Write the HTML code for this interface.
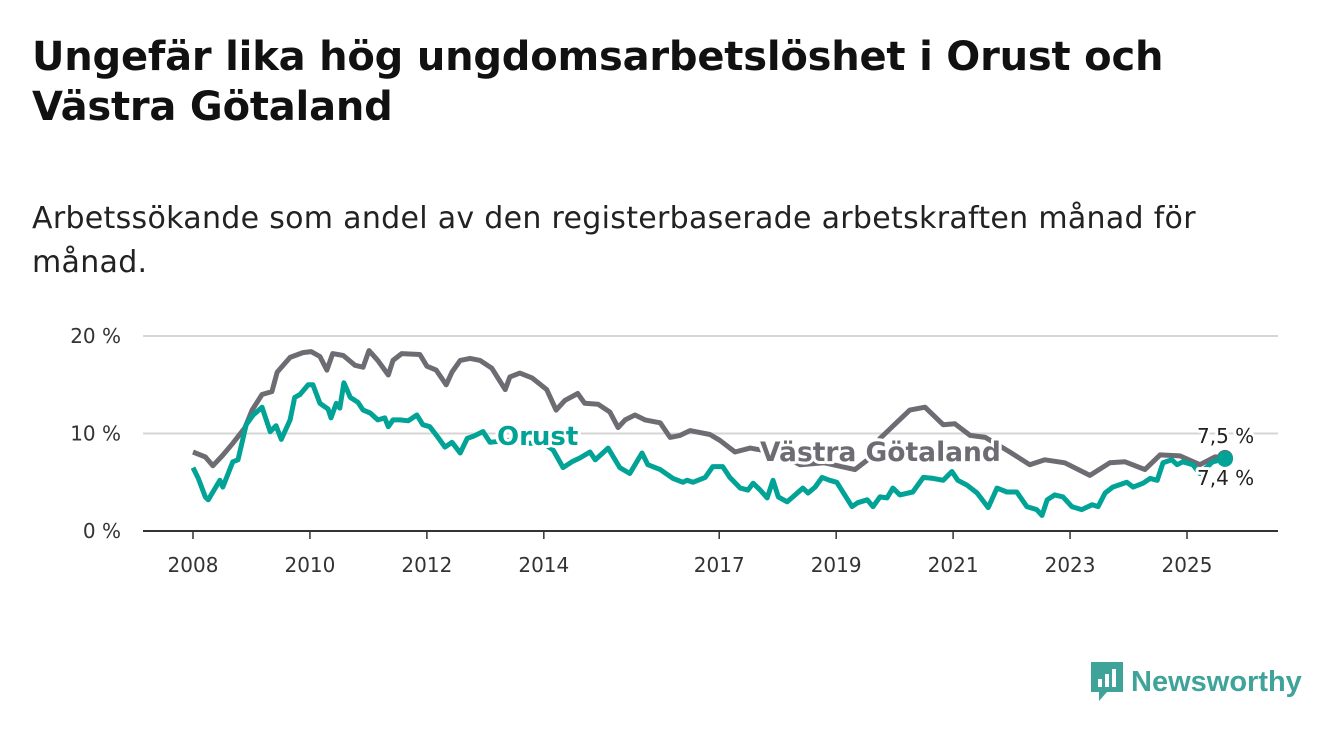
<!DOCTYPE html>
<html><head><meta charset="utf-8"><style>
body{margin:0;width:1340px;height:734px;background:#fff;font-family:"DejaVu Sans","Liberation Sans",sans-serif;overflow:hidden;position:relative}
h1{position:absolute;left:32px;top:32px;margin:0;font-size:40px;line-height:50px;font-weight:bold;color:#111;letter-spacing:-0.2px;white-space:nowrap}
.sub{position:absolute;left:32px;top:197px;margin:0;font-size:30px;line-height:44px;color:#222;width:1230px;letter-spacing:0.3px}
</style></head><body>
<h1>Ungefär lika hög ungdomsarbetslöshet i Orust och<br>Västra Götaland</h1>
<p class="sub">Arbetssökande som andel av den registerbaserade arbetskraften månad för<br>månad.</p>
<svg id="chart" width="1340" height="734" style="position:absolute;left:0;top:0;font-family:'DejaVu Sans',sans-serif"></svg>
<div style="position:absolute;left:1089px;top:660px;display:flex;align-items:center;font-family:'Liberation Sans',sans-serif">
<svg width="36" height="44"><path d="M2 2h32v30H18l-8 9v-9H2z" fill="#3fa39a"/><rect x="9" y="19" width="4" height="8" fill="#fff"/><rect x="16" y="14" width="4" height="13" fill="#fff"/><rect x="23" y="9" width="4" height="18" fill="#fff"/></svg>
<span style="font-size:29px;color:#3fa39a;margin-left:6px;font-weight:bold">Newsworthy</span></div>
<script>
const yTicks=[0,10,20];
const xTicks=[2008,2010,2012,2014,2017,2019,2021,2023,2025];
const vgT=[2008.00,2008.21,2008.34,2008.50,2008.68,2008.89,2009.01,2009.18,2009.35,2009.44,2009.66,2009.88,2010.02,2010.17,2010.29,2010.39,2010.57,2010.77,2010.91,2011.01,2011.16,2011.34,2011.42,2011.57,2011.88,2012.00,2012.16,2012.33,2012.43,2012.57,2012.74,2012.91,2013.11,2013.34,2013.42,2013.59,2013.80,2014.05,2014.21,2014.36,2014.58,2014.70,2014.93,2015.13,2015.27,2015.39,2015.56,2015.73,2015.99,2016.16,2016.33,2016.50,2016.84,2017.01,2017.27,2017.53,2018.0,2018.38,2018.8,2019.32,2019.58,2019.75,2020.26,2020.52,2020.83,2021.03,2021.29,2021.55,2021.97,2022.31,2022.57,2022.91,2023.34,2023.68,2023.94,2024.28,2024.54,2024.88,2025.22,2025.48,2025.65];
const vgV=[8.1,7.6,6.7,7.7,9.0,10.6,12.4,14.0,14.3,16.3,17.8,18.3,18.4,17.9,16.5,18.2,18.0,17.0,16.8,18.5,17.5,16.0,17.5,18.2,18.1,16.9,16.5,15.0,16.3,17.5,17.7,17.5,16.7,14.5,15.8,16.2,15.7,14.5,12.4,13.4,14.1,13.1,13.0,12.2,10.6,11.4,11.9,11.4,11.1,9.6,9.8,10.3,9.9,9.3,8.1,8.5,8.0,6.8,7.0,6.3,7.5,9.5,12.4,12.7,10.9,11.0,9.8,9.6,8.1,6.8,7.3,7.0,5.7,7.0,7.1,6.3,7.8,7.7,6.8,7.6,7.5];
const orT=[2008.00,2008.09,2008.21,2008.26,2008.38,2008.46,2008.51,2008.68,2008.77,2008.91,2009.03,2009.18,2009.32,2009.42,2009.51,2009.66,2009.74,2009.83,2009.97,2010.05,2010.17,2010.31,2010.36,2010.45,2010.51,2010.58,2010.69,2010.82,2010.91,2011.03,2011.16,2011.28,2011.34,2011.42,2011.54,2011.68,2011.83,2011.93,2012.05,2012.19,2012.31,2012.43,2012.57,2012.69,2012.79,2012.96,2013.08,2013.4,2013.7,2014.0,2014.16,2014.33,2014.48,2014.62,2014.79,2014.88,2015.10,2015.30,2015.47,2015.68,2015.78,2015.99,2016.21,2016.38,2016.45,2016.55,2016.76,2016.89,2017.06,2017.18,2017.36,2017.49,2017.58,2017.70,2017.82,2017.92,2018.01,2018.16,2018.26,2018.43,2018.52,2018.64,2018.76,2018.89,2019.01,2019.27,2019.37,2019.53,2019.63,2019.75,2019.87,2019.97,2020.09,2020.31,2020.49,2020.66,2020.83,2020.98,2021.08,2021.24,2021.41,2021.60,2021.75,2021.92,2022.09,2022.26,2022.43,2022.52,2022.61,2022.74,2022.88,2023.03,2023.20,2023.38,2023.48,2023.60,2023.73,2023.97,2024.08,2024.25,2024.37,2024.49,2024.59,2024.74,2024.83,2024.93,2025.10,2025.22,2025.44,2025.65];
const orV=[6.5,5.4,3.5,3.2,4.4,5.2,4.5,7.1,7.3,10.9,11.9,12.7,10.2,10.8,9.4,11.4,13.7,14.0,15.0,15.0,13.1,12.5,11.6,13.1,12.6,15.2,13.7,13.2,12.4,12.1,11.4,11.6,10.7,11.4,11.4,11.3,11.9,10.9,10.7,9.6,8.6,9.1,8.0,9.5,9.7,10.2,9.1,9.3,9.0,9.0,8.3,6.5,7.1,7.5,8.1,7.3,8.5,6.5,5.9,8.0,6.8,6.3,5.4,5.0,5.2,5.0,5.5,6.6,6.6,5.5,4.4,4.2,4.9,4.2,3.4,5.2,3.5,3.0,3.5,4.4,3.9,4.5,5.5,5.2,5.0,2.5,2.9,3.2,2.5,3.5,3.4,4.4,3.7,4.0,5.5,5.4,5.2,6.1,5.2,4.7,3.9,2.4,4.4,4.0,4.0,2.5,2.2,1.6,3.2,3.7,3.5,2.5,2.2,2.7,2.5,3.9,4.5,5.0,4.5,4.9,5.4,5.2,7.0,7.3,6.8,7.1,6.8,5.9,7.1,7.4];
const NS="http://www.w3.org/2000/svg";const svg=document.getElementById('chart');
const X=t=>193+(t-2008)*58.47, Y=v=>531-v*9.75;
function el(tag,a,p){const e=document.createElementNS(NS,tag);for(const k in a)e.setAttribute(k,a[k]);(p||svg).appendChild(e);return e;}
yTicks.forEach(v=>{
 const l=el('line',{x1:143,x2:1278,y1:Y(v),y2:Y(v),stroke:v?'#d6d6d6':'#333','stroke-width':2});
 
 
 const t=el('text',{x:121,y:Y(v)+7,'text-anchor':'end','font-size':20,fill:'#333'});t.textContent=v+' %';
 
 
});
xTicks.forEach(y=>{
 const l=el('line',{x1:X(y),x2:X(y),y1:531,y2:539,stroke:'#333','stroke-width':1.5});
 
 
 const t=el('text',{x:X(y),y:572,'text-anchor':'middle','font-size':20,fill:'#333'});t.textContent=y;
 
 
});
function line(T,V,c,n){const d=T.map((t,i)=>(i?'L':'M')+X(t).toFixed(1)+' '+Y(V[i]).toFixed(1)).join('');
 const p=el('path',{d:d,fill:'none',stroke:c,'stroke-width':5,'stroke-linejoin':'round'});
 
 }
line(vgT,vgV,'#6d6c72','line-vastra-gotaland');
line(orT,orV,'#00a396','line-orust');
function lab(x,y,s,c,n,sz,w){const t=el('text',{x:x,y:y,'font-size':sz,'font-weight':w,fill:c,stroke:'#fff','stroke-width':6,'paint-order':'stroke','stroke-linejoin':'round'});t.textContent=s;
 
 }
lab(497,445,'Orust','#00a396','label-orust',26,'bold');
lab(760,461,'Västra Götaland','#6d6c72','label-vastra-gotaland',26.5,'bold');
const d1=el('circle',{cx:X(vgT[vgT.length-1]),cy:Y(vgV[vgV.length-1]),r:8,fill:'#6d6c72'});


const d2=el('circle',{cx:X(orT[orT.length-1]),cy:Y(orV[orV.length-1]),r:8,fill:'#00a396'});


lab(1197,443,'7,5 %','#222','value-label-vastra-gotaland',20,'normal');
lab(1197,485,'7,4 %','#222','value-label-orust',20,'normal');
</script>
</body></html>
